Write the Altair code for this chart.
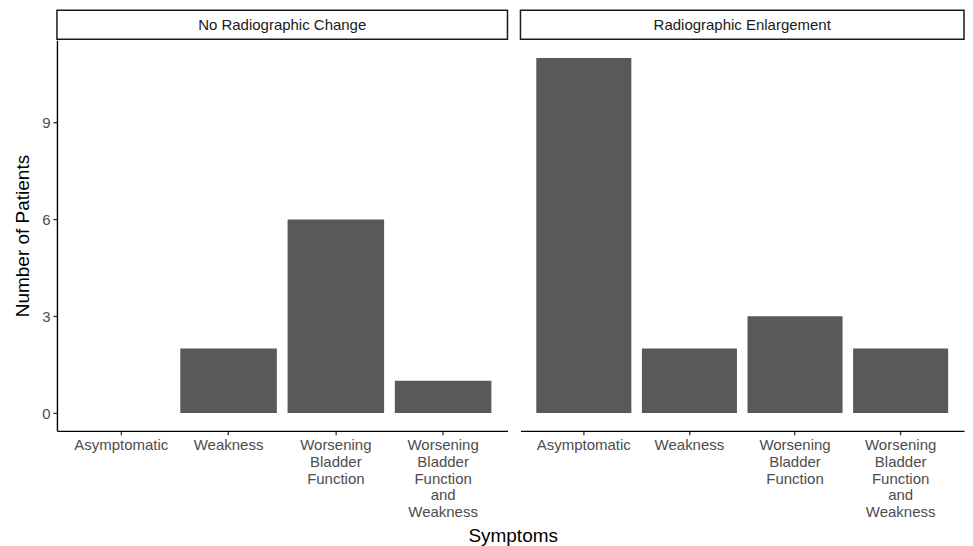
import altair as alt
import pandas as pd

categories = ["Asymptomatic", "Weakness", "Worsening Bladder Function",
              "Worsening Bladder Function and Weakness"]
panels = ["No Radiographic Change", "Radiographic Enlargement"]
no_change = [0, 2, 6, 1]
enlargement = [11, 2, 3, 2]
y_ticks = [0, 3, 6, 9]

FONT = "Liberation Sans"
W1, W2, H = 451, 444, 391


def panel(name, values, width, show_y):
    df = pd.DataFrame({"Symptom": categories, "Count": values})
    x = alt.X(
        "Symptom:N", sort=categories, title=None,
        scale=alt.Scale(paddingInner=0.1, paddingOuter=0.15),
        axis=alt.Axis(labelAngle=0, labelExpr="split(datum.label, ' ')",
                      labelFont=FONT, labelFontSize=15, labelColor="#4D4D4D",
                      labelLineHeight=16.7, labelPadding=3, labelBaseline="top",
                      tickSize=4, tickColor="#333333", tickWidth=1.3,
                      domainColor="black", domainWidth=1.4, grid=False),
    )
    yscale = alt.Scale(domain=[-0.55, 11.55], nice=False, zero=False)
    if show_y:
        yaxis = alt.Axis(values=y_ticks, title="Number of Patients",
                         titleFont=FONT, titleFontSize=19, titleFontWeight="normal",
                         titleColor="black", titlePadding=9,
                         labelFont=FONT, labelFontSize=15, labelColor="#4D4D4D",
                         labelPadding=3, tickSize=4, tickColor="#333333",
                         tickWidth=1.3, domainColor="black", domainWidth=1.4,
                         grid=False)
    else:
        yaxis = None
    bars = alt.Chart(df).mark_bar(color="#595959").encode(
        x=x,
        y=alt.Y("Count:Q", scale=yscale, axis=yaxis),
        y2=alt.datum(0),
    )
    strip_df = pd.DataFrame({"label": [name]})
    rect = alt.Chart(strip_df).mark_rect(
        fill="white", stroke="#1A1A1A", strokeWidth=1.5
    ).encode(x=alt.value(0), x2=alt.value(width), y=alt.value(-30), y2=alt.value(-1))
    text = alt.Chart(strip_df).mark_text(
        font=FONT, fontSize=15, color="#1A1A1A", baseline="middle", align="center"
    ).encode(x=alt.value(width / 2), y=alt.value(-15.5), text="label:N")
    return alt.layer(bars, rect, text).properties(width=width, height=H)


left = panel(panels[0], no_change, W1, True)
right = panel(panels[1], enlargement, W2, False)

chart = alt.hconcat(left, right, spacing=11).resolve_scale(y="shared").properties(
    title=alt.TitleParams("Symptoms", orient="bottom", anchor="middle",
                          font=FONT, fontSize=19, fontWeight="normal",
                          color="black", offset=7, dx=24),
    padding={"left": 5, "top": 1, "right": 0, "bottom": 0},
).configure_view(stroke=None)

chart.save("out.html", embed_options={"renderer": "svg", "actions": False})
